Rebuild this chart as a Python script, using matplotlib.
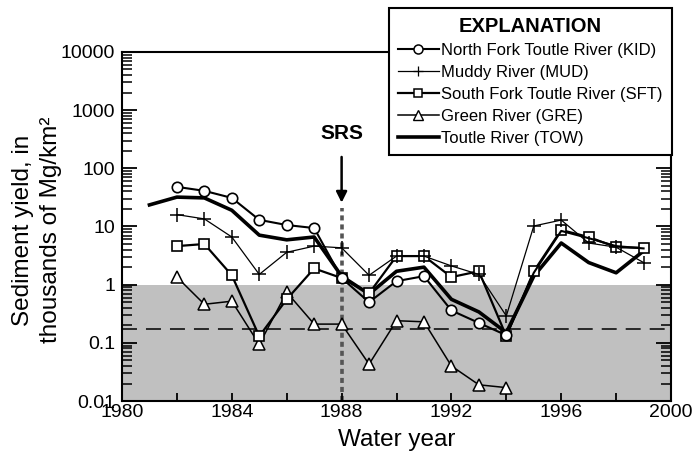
import numpy as np
import matplotlib
matplotlib.use('Agg')
from matplotlib import pyplot as plt
from matplotlib.lines import Line2D
from matplotlib.ticker import FixedLocator, LogLocator, NullFormatter, FuncFormatter

plt.rcParams['font.family'] = ['Liberation Sans', 'DejaVu Sans']

# 数据 (千 Mg/km2)
years = np.arange(1982, 2000)
kid = [48, 41, 31, 13, 10.6, 9.4, 1.3, 0.5, 1.15, 1.4, 0.36, 0.22, 0.135,
       1.6, 8.4, 6.3, 4.6, 4.2]
mud = [16, 13.5, 6.6, 1.5, 3.6, 4.6, 4.3, 1.45, 3.1, 3.1, 2.1, 1.5, 0.29,
       10.2, 12.9, 5.2, 4.4, 2.4]
sft = [4.6, 5.0, 1.45, 0.13, 0.56, 1.9, 1.3, 0.71, 3.1, 3.1, 1.35, 1.7, 0.13,
       1.7, 8.7, 6.6, 4.4, 4.3]
gre_years = np.arange(1982, 1995)
gre = [1.35, 0.46, 0.52, 0.094, 0.74, 0.21, 0.21, 0.043, 0.24, 0.23, 0.04,
       0.019, 0.017]
tow_years = np.arange(1981, 2000)
tow = [23.5, 32, 31, 19, 7.1, 5.9, 6.6, 1.4, 0.69, 1.7, 2.0, 0.56, 0.34, 0.15,
       1.4, 5.2, 2.4, 1.6, 3.8]

srs_year = 1988
threshold = 0.17
shade_top = 1

fig = plt.figure(figsize=(6.92, 4.62), dpi=100)
ax = fig.add_axes([0.1763, 0.132, 0.7934, 0.7555])

ax.axhspan(0.01, shade_top, color='#c0c0c0', zorder=0, lw=0)
ax.axhline(threshold, color='k', lw=1.1, linestyle=(0, (9.8, 5.9)), zorder=1)
ax.plot([srs_year, srs_year], [0.01, 21], color='#555555', lw=2.6,
        linestyle=(0, (1.4, 1.1)), zorder=1)

mk = dict(markerfacecolor='white', markeredgecolor='k', color='k')
ax.plot(tow_years, tow, lw=2.6, color='k', zorder=2)
ax.plot(gre_years, gre, lw=1.1, marker='^', markersize=8, mew=1.1, zorder=3, **mk)
ax.plot(years, sft, lw=1.6, marker='s', markersize=7.5, mew=1.2, zorder=4, **mk)
ax.plot(years, kid, lw=1.5, marker='o', markersize=7.5, mew=1.2, zorder=5,
        markevery=list(range(13)), **mk)
ax.plot(years, mud, lw=0.9, marker='+', markersize=10, mew=1.1, color='k', zorder=6)

ax.text(srs_year, 400, 'SRS', ha='center', va='center', fontsize=15,
        fontweight='bold')
ax.annotate('', xy=(srs_year, 23), xytext=(srs_year, 175),
            arrowprops=dict(arrowstyle='-|>', lw=1.8, color='k',
                            mutation_scale=16))

ax.set_yscale('log')
ax.set_xlim(1980, 2000)
ax.set_ylim(0.01, 10000)
ax.xaxis.set_major_locator(FixedLocator(np.arange(1980, 2001, 4)))
ax.xaxis.set_minor_locator(FixedLocator(np.arange(1982, 2000, 4)))
ax.yaxis.set_major_locator(LogLocator(base=10, numticks=20))
ax.yaxis.set_minor_locator(LogLocator(base=10, subs=np.arange(2, 10), numticks=20))
ax.yaxis.set_minor_formatter(NullFormatter())
ax.yaxis.set_major_formatter(FuncFormatter(lambda v, p: '%g' % v))

ax.tick_params(axis='x', which='both', direction='in', length=6, width=1.3,
               top=False, labelsize=14, pad=2)
ax.tick_params(axis='y', which='major', direction='in', length=11, width=1.3,
               right=True, labelsize=14, pad=5)
ax.tick_params(axis='y', which='minor', direction='in', length=7, width=1.1,
               right=True)
for s in ax.spines.values():
    s.set_linewidth(1.5)

ax.set_xlabel('Water year', fontsize=17.5, labelpad=6)
ax.set_ylabel('Sediment yield, in\nthousands of Mg/km\u00b2', fontsize=17.5,
              linespacing=1.38)
ax.yaxis.set_label_coords(-0.109, 0.49)

handles = [
    Line2D([], [], lw=1.5, marker='o', markersize=6.5, mew=1.1, **mk),
    Line2D([], [], lw=0.9, marker='+', markersize=7, mew=0.9, color='k'),
    Line2D([], [], lw=1.6, marker='s', markersize=6, mew=1.1, **mk),
    Line2D([], [], lw=1.1, marker='^', markersize=6.5, mew=1.0, **mk),
    Line2D([], [], lw=2.6, color='k'),
]
labels = ['North Fork Toutle River (KID)', 'Muddy River (MUD)',
          'South Fork Toutle River (SFT)', 'Green River (GRE)',
          'Toutle River (TOW)']
leg = fig.legend(handles, labels, loc='upper right',
                 bbox_to_anchor=(0.971, 0.983), borderaxespad=0,
                 fontsize=12, title='EXPLANATION',
                 title_fontproperties={'weight': 'bold', 'size': 14.5},
                 handlelength=2.45, handletextpad=0.15, labelspacing=0.42,
                 borderpad=0.55, fancybox=False, framealpha=1,
                 edgecolor='k')
leg.get_frame().set_linewidth(1.5)
leg._legend_box.sep = 5

fig.savefig('out.png', dpi=100)
